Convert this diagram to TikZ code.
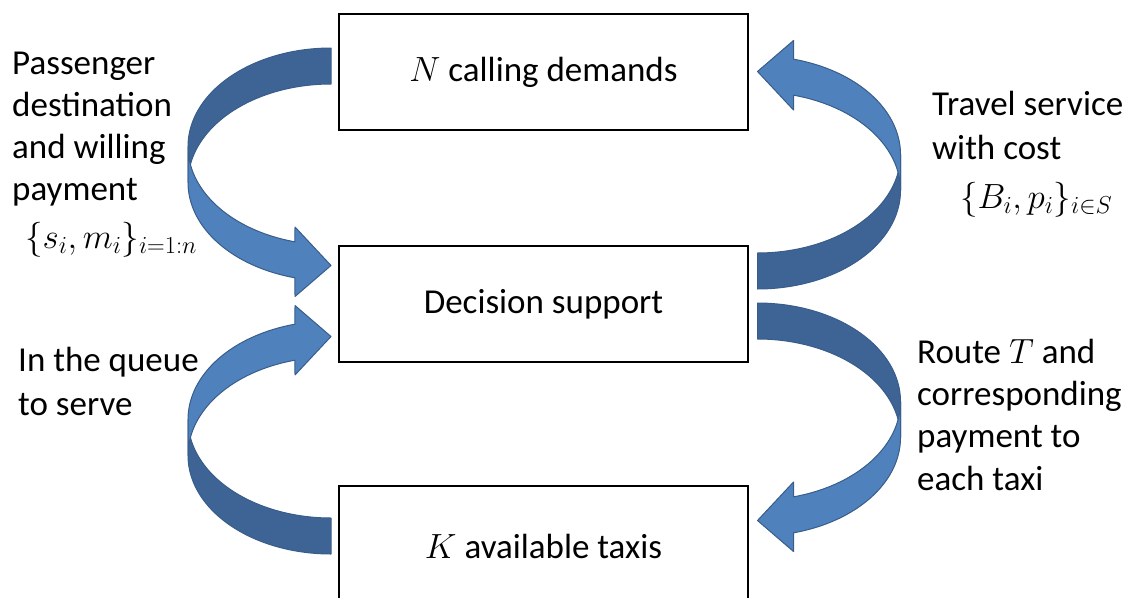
\RequirePackage{fix-cm}
\documentclass[tikz,border=0pt]{standalone}
\usepackage{fontspec}
\setmainfont{Carlito}
\definecolor{lightband}{RGB}{79,129,189}
\definecolor{darkband}{RGB}{62,100,150}
\definecolor{bandline}{RGB}{56,93,138}
% curved band arrow made of two equal ellipses offset by the band thickness
% #1,#2 = centre (pixels), #3 = side of the bulge (-1 left, 1 right), #4 = side of the tail (-1 above, 1 below)
\newcommand\curvarrow[4]{%
 \filldraw[fill=darkband, draw=bandline, line width=1pt, line join=round]
   plot[domain=90:0, samples=60, variable=\t] ({#1+(#3)*143*cos(\t)},{#2+(#4)*18+(#4)*98.5*sin(\t)})
   -- plot[domain=0:90, samples=60, variable=\t] ({#1+(#3)*143*cos(\t)},{#2-(#4)*18+(#4)*98.5*sin(\t)}) -- cycle;
 \filldraw[fill=lightband, draw=bandline, line width=1pt, line join=round]
   plot[domain=0:75.4, samples=60, variable=\t] ({#1+(#3)*143*cos(\t)},{#2+(#4)*18-(#4)*98.5*sin(\t)})
   -- ({#1+(#3)*36},{#2-(#4)*62.5}) -- ({#1},{#2-(#4)*101}) -- ({#1+(#3)*36},{#2-(#4)*132})
   -- plot[domain=75.4:0, samples=60, variable=\t] ({#1+(#3)*143*cos(\t)},{#2-(#4)*18-(#4)*98.5*sin(\t)}) -- cycle;
}
\begin{document}
\begin{tikzpicture}[x=1pt,y=-1pt,
  box/.style={draw=black, line width=2.5pt, minimum width=409pt, minimum height=116pt, inner sep=0pt, font=\fontsize{35}{42}\selectfont},
  lbl/.style={anchor=base west, align=left, inner sep=0pt}]
\useasboundingbox (0,0) rectangle (1129,597);
\node[box] (demand) at (543.5,72) {$N$ calling demands};
\node[box] (decision) at (543.5,304) {Decision support};
\node[box, minimum height=120pt] (taxis) at (543.5,546) {$K$ available taxis};
\curvarrow{331}{164.5}{-1}{-1}
\curvarrow{331}{437.5}{-1}{1}
\curvarrow{757.5}{172.5}{1}{1}
\curvarrow{757.5}{419.5}{1}{-1}
\node[lbl, font=\fontsize{35}{41.8}\selectfont] (passenger) at (12,248) {Passenger\\destination\\and willing\\payment\\[6pt]\hspace*{13pt}$\{s_i,m_i\}_{i=1:n}$};
\node[lbl, font=\fontsize{35}{44.5}\selectfont] (travel) at (932,208) {Travel service\\with cost\\[4pt]\hspace*{28pt}$\{B_i,p_i\}_{i\in S}$};
\node[lbl, font=\fontsize{35}{44}\selectfont] (queue) at (18,415) {In the queue\\to serve};
\node[lbl, font=\fontsize{35}{42.3}\selectfont] (route) at (917,490) {Route $T$ and\\corresponding\\payment to\\each taxi};
\end{tikzpicture}
\end{document}
